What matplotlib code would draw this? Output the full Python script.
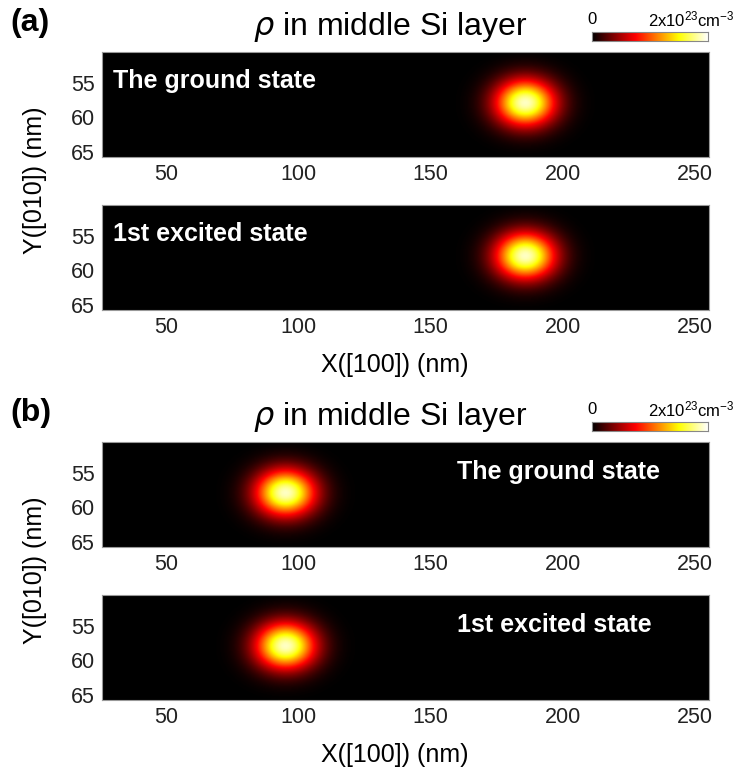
import numpy as np
import matplotlib.pyplot as plt
from matplotlib.colors import LinearSegmentedColormap

plt.rcParams['font.family'] = ['Liberation Sans', 'DejaVu Sans']
plt.rcParams['mathtext.fontset'] = 'custom'
plt.rcParams['mathtext.rm'] = 'Liberation Sans'
plt.rcParams['mathtext.it'] = 'DejaVu Sans:italic'

W, H = 738, 774

# data window of each map (nm)
x_range = [25.5, 255.5]
y_range = [50.5, 65.8]
x_ticks = [50, 100, 150, 200, 250]
y_ticks = [55, 60, 65]

# density blob: centre and spread (nm), peak relative to colour limit
blob_x = {'a': [186, 186], 'b': [95, 95]}
blob_y = {'a': [57.9, 57.9], 'b': [57.9, 57.9]}
blob_sx = 8.0
blob_sy = 2.4
blob_peak = 0.94

state_names = ['The ground state', '1st excited state']
panel_labels = ['(a)', '(b)']
cbar_labels = ['0', r'2x10$\mathregular{^{23}}$cm$\mathregular{^{-3}}$']

# MATLAB-like hot map, pure black at the bottom
hot = LinearSegmentedColormap.from_list(
    'hot_black', [(0, 'black'), (0.375, 'red'), (0.75, 'yellow'), (1, 'white')])

fig = plt.figure(figsize=(W / 100, H / 100), dpi=100)


def px_axes(x0, y0, x1, y1):
    return fig.add_axes([x0 / W, 1 - y1 / H, (x1 - x0) / W, (y1 - y0) / H])


xs = np.linspace(x_range[0], x_range[1], 600)
ys = np.linspace(y_range[0], y_range[1], 120)
XX, YY = np.meshgrid(xs, ys)

# pixel boxes for each panel
panel_top = {'a': 0, 'b': 390}
map_boxes = [(102, 52, 709, 157), (102, 205, 709, 310)]

for key, lab in zip(['a', 'b'], panel_labels):
    top = panel_top[key]
    fig.text(10 / W, 1 - (top + 23) / H, lab, fontsize=23, fontweight='bold',
             va='center', ha='left')
    fig.text(390 / W, 1 - (top + 27) / H, r'$\rho$ in middle Si layer', fontsize=23,
             va='center', ha='center')

    # colour bar strip
    cax = px_axes(592, top + 32, 708, top + 41)
    cax.imshow(np.linspace(0, 1, 256)[None, :], aspect='auto', cmap=hot,
               extent=[0, 1, 0, 1])
    cax.set_xticks([])
    cax.set_yticks([])
    for s in cax.spines.values():
        s.set_color('#888888')
        s.set_linewidth(0.8)
    fig.text(592 / W, 1 - (top + 19) / H, cbar_labels[0], fontsize=12,
             ha='center', va='center')
    fig.text(735 / W, 1 - (top + 19) / H, cbar_labels[1], fontsize=12,
             ha='right', va='center')

    for i, (bx0, by0, bx1, by1) in enumerate(map_boxes):
        ax = px_axes(bx0, by0 + top, bx1, by1 + top)
        rho = blob_peak * np.exp(-(XX - blob_x[key][i]) ** 2 / (2 * blob_sx ** 2)
                                 - (YY - blob_y[key][i]) ** 2 / (2 * blob_sy ** 2))
        ax.imshow(rho, cmap=hot, vmin=0, vmax=1, aspect='auto', origin='lower',
                  extent=[x_range[0], x_range[1], y_range[0], y_range[1]],
                  interpolation='bilinear')
        ax.set_xlim(x_range)
        ax.set_ylim(y_range[1], y_range[0])
        ax.set_xticks(x_ticks)
        ax.set_yticks(y_ticks)
        ax.tick_params(labelsize=15.5, length=0, pad=5, colors='#222222')
        for s in ax.spines.values():
            s.set_color('#999999')
            s.set_linewidth(0.8)
        if key == 'a':
            ax.text(0.018, 0.72, state_names[i], transform=ax.transAxes, color='white',
                    fontsize=18, fontweight='bold', va='center', ha='left')
        else:
            ax.text(0.585, 0.71, state_names[i], transform=ax.transAxes, color='white',
                    fontsize=18, fontweight='bold', va='center', ha='left')

    fig.text(395 / W, 1 - (top + 365) / H, 'X([100]) (nm)', fontsize=18,
             ha='center', va='center')
    fig.text(35 / W, 1 - (top + 180) / H, 'Y([010]) (nm)', fontsize=18,
             ha='center', va='center', rotation=90)

fig.savefig('out.png', dpi=100)
